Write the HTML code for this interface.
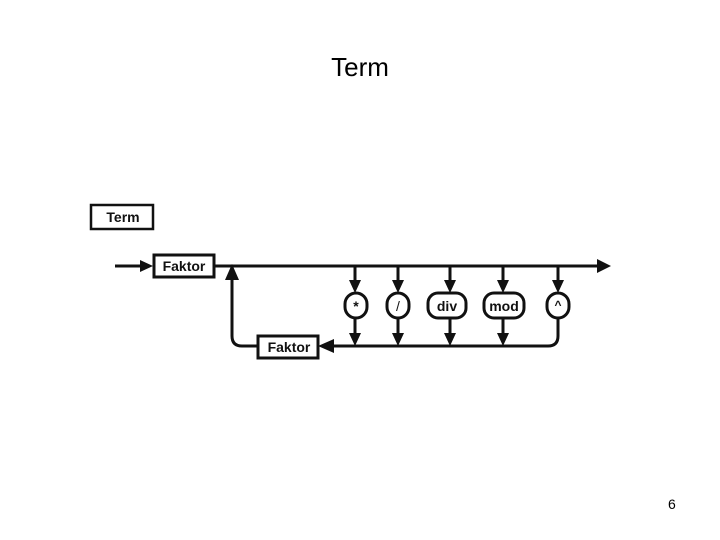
<!DOCTYPE html>
<html><head><style>
body{margin:0;width:720px;height:540px;background:#fff;position:relative;font-family:"Liberation Sans",sans-serif;overflow:hidden}
</style></head><body>
<div style="position:absolute;left:0;width:720px;top:52px;text-align:center;font-size:26px;color:#000">Term</div>
<div style="position:absolute;left:668px;top:496px;font-size:14px">6</div>
<svg width="720" height="540" style="position:absolute;left:0;top:0" font-family="Liberation Sans, sans-serif" font-weight="bold">
<g stroke="#111" stroke-width="3" fill="none">
<rect x="91" y="205" width="62" height="24" stroke-width="2.5"/>
<line x1="115" y1="266" x2="150" y2="266"/>
<rect x="154" y="255" width="60" height="22"/>
<line x1="214" y1="266" x2="598" y2="266"/>
<path d="M257 346 H242 Q232 346 232 336 V278"/>
<rect x="258" y="336" width="60" height="22"/>
<path d="M330 346 H548 Q558 346 558 336 V318"/>
<line x1="355" y1="266" x2="355" y2="282"/><line x1="355" y1="318" x2="355" y2="334"/>
<line x1="398" y1="266" x2="398" y2="282"/><line x1="398" y1="318" x2="398" y2="334"/>
<line x1="450" y1="266" x2="450" y2="282"/><line x1="450" y1="318" x2="450" y2="334"/>
<line x1="503" y1="266" x2="503" y2="282"/><line x1="503" y1="318" x2="503" y2="334"/>
<line x1="558" y1="266" x2="558" y2="282"/>
<rect x="345" y="293" width="22" height="25" rx="11"/>
<rect x="387" y="293" width="22" height="25" rx="11"/>
<rect x="428" y="293" width="38" height="25" rx="10"/>
<rect x="484" y="293" width="40" height="25" rx="10"/>
<rect x="547" y="293" width="22" height="25" rx="11"/>
</g>
<g fill="#111">
<polygon points="140,260 153,266 140,272"/>
<polygon points="597,259 611,266 597,273"/>
<polygon points="225,280 232,264 239,280"/>
<polygon points="334,339 318,346 334,353"/>
<polygon points="349,280 361,280 355,293"/><polygon points="349,333 361,333 355,346"/>
<polygon points="392,280 404,280 398,293"/><polygon points="392,333 404,333 398,346"/>
<polygon points="444,280 456,280 450,293"/><polygon points="444,333 456,333 450,346"/>
<polygon points="497,280 509,280 503,293"/><polygon points="497,333 509,333 503,346"/>
<polygon points="552,280 564,280 558,293"/>
</g>
<g font-size="14" fill="#111" text-anchor="middle">
<text x="123" y="222">Term</text>
<text x="184" y="271">Faktor</text>
<text x="289" y="352">Faktor</text>
<text x="356" y="311">*</text>
<text x="398" y="311" font-weight="normal">/</text>
<text x="447" y="311">div</text>
<text x="504" y="311">mod</text>
<text x="558" y="309" font-size="12">^</text>
</g>
</svg>
</body></html>
